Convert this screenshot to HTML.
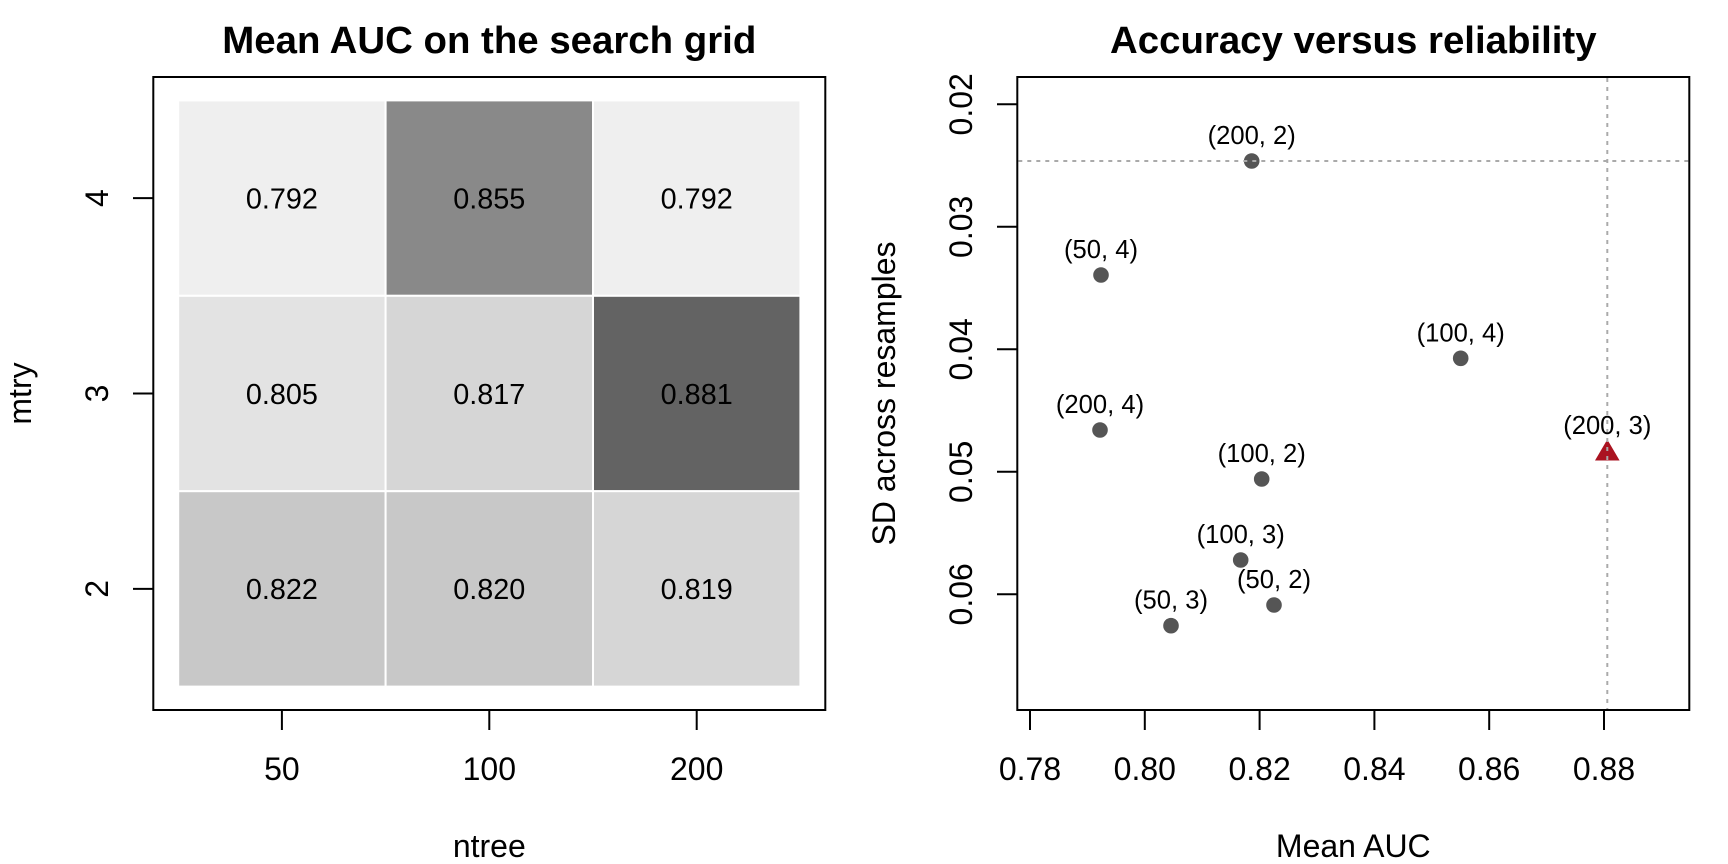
<!DOCTYPE html>
<html>
<head>
<meta charset="utf-8">
<style>
html,body{margin:0;padding:0;background:#fff;}
svg{display:block;}
text{font-family:"Liberation Sans",Arial,sans-serif;fill:#000;}
</style>
</head>
<body>
<svg width="1728" height="864" viewBox="0 0 1728 864" xmlns="http://www.w3.org/2000/svg">
<rect x="0" y="0" width="1728" height="864" fill="#fff"/>

<!-- ============ LEFT PANEL: heatmap ============ -->
<g stroke="#fff" stroke-width="2">
  <rect x="178.2" y="100.4" width="207.4" height="195.4" fill="#efefef"/>
  <rect x="385.6" y="100.4" width="207.4" height="195.4" fill="#898989"/>
  <rect x="593" y="100.4" width="207.4" height="195.4" fill="#efefef"/>
  <rect x="178.2" y="295.8" width="207.4" height="195.4" fill="#e3e3e3"/>
  <rect x="385.6" y="295.8" width="207.4" height="195.4" fill="#d6d6d6"/>
  <rect x="593" y="295.8" width="207.4" height="195.4" fill="#636363"/>
  <rect x="178.2" y="491.2" width="207.4" height="195.4" fill="#c8c8c8"/>
  <rect x="385.6" y="491.2" width="207.4" height="195.4" fill="#c8c8c8"/>
  <rect x="593" y="491.2" width="207.4" height="195.4" fill="#d6d6d6"/>
</g>
<g font-size="28.8" text-anchor="middle">
  <text x="281.9" y="208.4">0.792</text>
  <text x="489.3" y="208.4">0.855</text>
  <text x="696.7" y="208.4">0.792</text>
  <text x="281.9" y="403.8">0.805</text>
  <text x="489.3" y="403.8">0.817</text>
  <text x="696.7" y="403.8">0.881</text>
  <text x="281.9" y="599.2">0.822</text>
  <text x="489.3" y="599.2">0.820</text>
  <text x="696.7" y="599.2">0.819</text>
</g>
<rect x="153.3" y="77" width="672" height="633" fill="none" stroke="#000" stroke-width="2"/>
<g stroke="#000" stroke-width="2">
  <line x1="281.9" y1="710" x2="281.9" y2="730"/>
  <line x1="489.3" y1="710" x2="489.3" y2="730"/>
  <line x1="696.7" y1="710" x2="696.7" y2="730"/>
  <line x1="133" y1="198.1" x2="153.3" y2="198.1"/>
  <line x1="133" y1="393.5" x2="153.3" y2="393.5"/>
  <line x1="133" y1="588.9" x2="153.3" y2="588.9"/>
</g>
<g font-size="32" text-anchor="middle">
  <text x="281.9" y="780">50</text>
  <text x="489.3" y="780">100</text>
  <text x="696.7" y="780">200</text>
  <text transform="translate(108,198.1) rotate(-90)" x="0" y="0">4</text>
  <text transform="translate(108,393.5) rotate(-90)" x="0" y="0">3</text>
  <text transform="translate(108,588.9) rotate(-90)" x="0" y="0">2</text>
  <text x="489.3" y="857">ntree</text>
  <text transform="translate(31,393.5) rotate(-90)" x="0" y="0">mtry</text>
</g>
<text x="489.3" y="53" font-size="38.4" font-weight="bold" text-anchor="middle">Mean AUC on the search grid</text>

<!-- ============ RIGHT PANEL: scatter ============ -->
<g fill="#555555">
  <circle cx="1251.7" cy="161" r="7.8"/>
  <circle cx="1101" cy="275" r="7.8"/>
  <circle cx="1100" cy="430" r="7.8"/>
  <circle cx="1261.7" cy="479" r="7.8"/>
  <circle cx="1240.7" cy="560" r="7.8"/>
  <circle cx="1274" cy="605" r="7.8"/>
  <circle cx="1171" cy="625.7" r="7.8"/>
  <circle cx="1460.7" cy="358.3" r="7.8"/>
</g>
<polygon points="1607.3,439.5 1595,460.5 1619.6,460.5" fill="#aa1320"/>
<g stroke="#aaaaaa" stroke-width="2" stroke-dasharray="4 5">
  <line x1="1018.3" y1="161" x2="1688.3" y2="161"/>
  <line x1="1607.3" y1="78" x2="1607.3" y2="709"/>
</g>
<g font-size="25.6" text-anchor="middle">
  <text x="1251.7" y="144">(200, 2)</text>
  <text x="1101" y="258">(50, 4)</text>
  <text x="1100" y="413">(200, 4)</text>
  <text x="1261.7" y="462">(100, 2)</text>
  <text x="1240.7" y="543">(100, 3)</text>
  <text x="1274" y="588">(50, 2)</text>
  <text x="1171" y="608.7">(50, 3)</text>
  <text x="1460.7" y="341.3">(100, 4)</text>
  <text x="1607.3" y="434">(200, 3)</text>
</g>
<rect x="1017.3" y="77" width="672" height="633" fill="none" stroke="#000" stroke-width="2"/>
<g stroke="#000" stroke-width="2">
  <line x1="1030" y1="710" x2="1030" y2="730"/>
  <line x1="1144.8" y1="710" x2="1144.8" y2="730"/>
  <line x1="1259.6" y1="710" x2="1259.6" y2="730"/>
  <line x1="1374.4" y1="710" x2="1374.4" y2="730"/>
  <line x1="1489.2" y1="710" x2="1489.2" y2="730"/>
  <line x1="1604" y1="710" x2="1604" y2="730"/>
  <line x1="997" y1="104.3" x2="1017.3" y2="104.3"/>
  <line x1="997" y1="226.8" x2="1017.3" y2="226.8"/>
  <line x1="997" y1="349.3" x2="1017.3" y2="349.3"/>
  <line x1="997" y1="471.8" x2="1017.3" y2="471.8"/>
  <line x1="997" y1="594.3" x2="1017.3" y2="594.3"/>
</g>
<g font-size="32" text-anchor="middle">
  <text x="1030" y="780">0.78</text>
  <text x="1144.8" y="780">0.80</text>
  <text x="1259.6" y="780">0.82</text>
  <text x="1374.4" y="780">0.84</text>
  <text x="1489.2" y="780">0.86</text>
  <text x="1604" y="780">0.88</text>
  <text transform="translate(972,104.3) rotate(-90)" x="0" y="0">0.02</text>
  <text transform="translate(972,226.8) rotate(-90)" x="0" y="0">0.03</text>
  <text transform="translate(972,349.3) rotate(-90)" x="0" y="0">0.04</text>
  <text transform="translate(972,471.8) rotate(-90)" x="0" y="0">0.05</text>
  <text transform="translate(972,594.3) rotate(-90)" x="0" y="0">0.06</text>
  <text x="1353.3" y="857">Mean AUC</text>
  <text transform="translate(895,393.5) rotate(-90)" x="0" y="0">SD across resamples</text>
</g>
<text x="1353.3" y="53" font-size="38.4" font-weight="bold" text-anchor="middle">Accuracy versus reliability</text>
</svg>
</body>
</html>
